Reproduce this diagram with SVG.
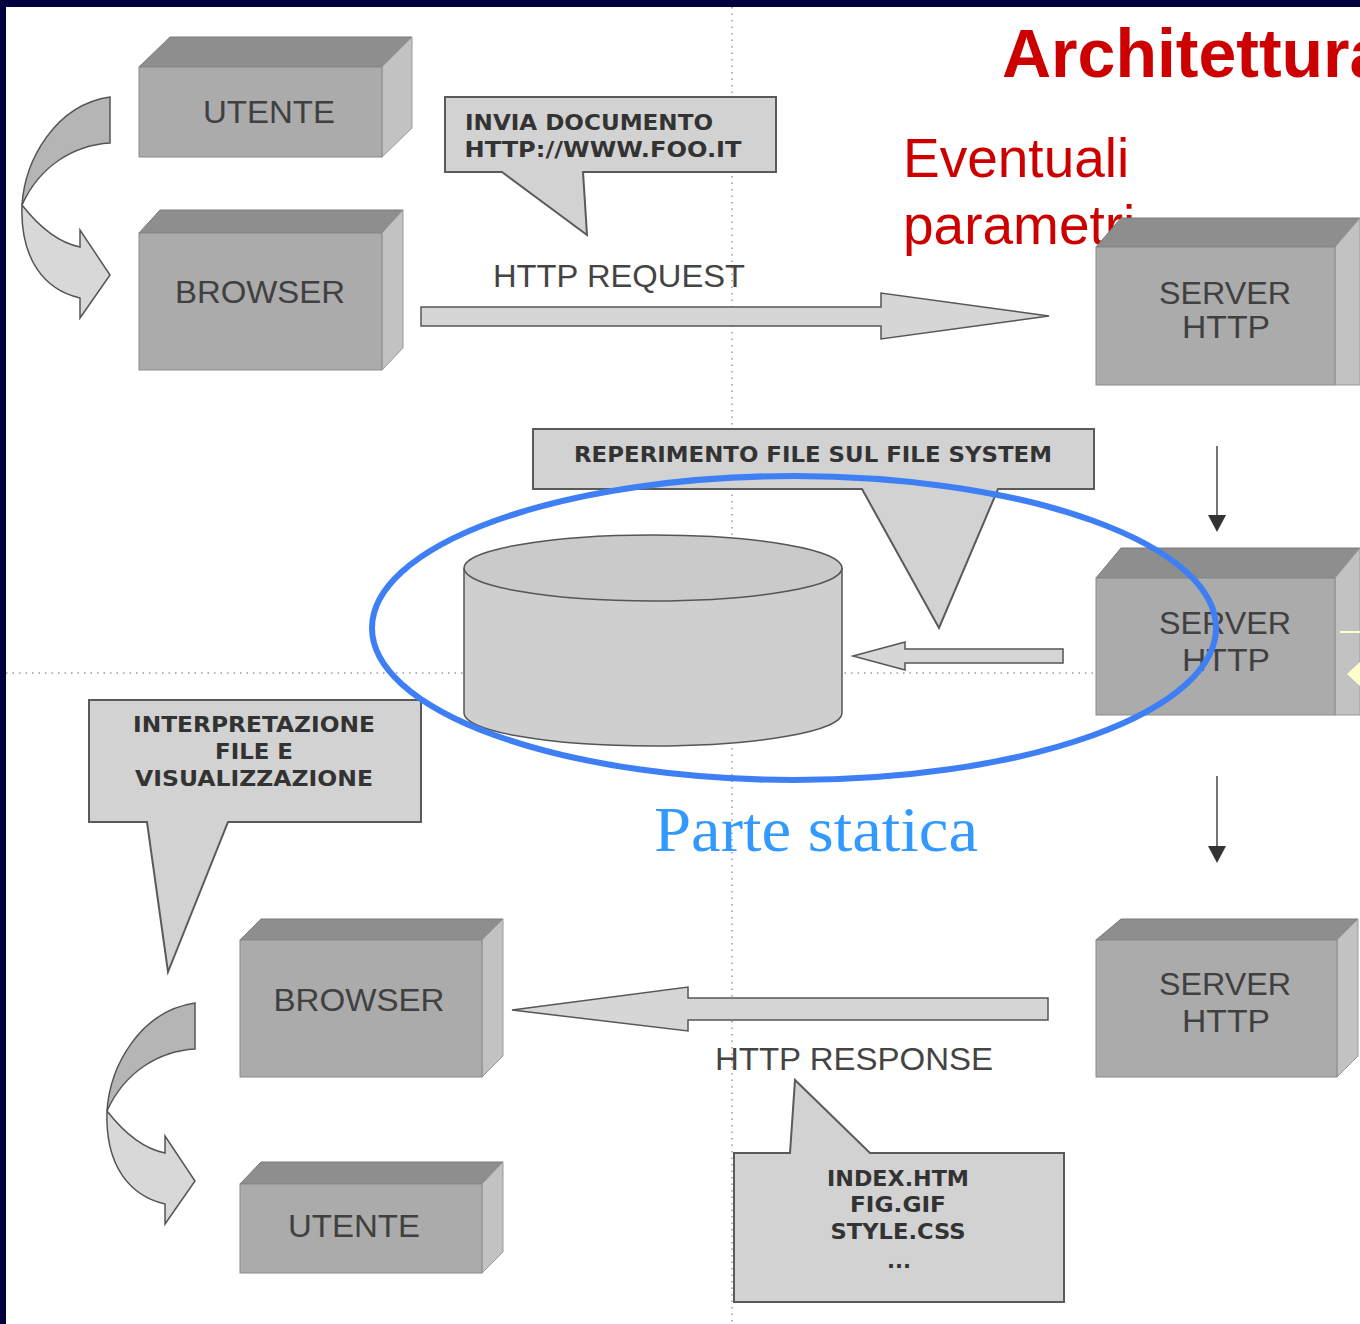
<svg xmlns="http://www.w3.org/2000/svg" width="1360" height="1324" viewBox="0 0 1360 1324">
<style>
.front{fill:#ababab;stroke:#8a8a8a;stroke-width:1}
.top{fill:#8e8e8e;stroke:#7a7a7a;stroke-width:1}
.side{fill:#c2c2c2;stroke:#9a9a9a;stroke-width:1}
.box{font-family:"Liberation Sans",Arial,sans-serif;font-size:31px;fill:#404040;text-anchor:middle}
.call{fill:#d2d2d2;stroke:#5a5a5a;stroke-width:2}
.ct{font-family:"DejaVu Sans","Liberation Sans",sans-serif;font-weight:bold;font-size:21px;fill:#333;text-anchor:middle}
.lbl{font-family:"Liberation Sans",Arial,sans-serif;font-size:31px;fill:#444;text-anchor:middle}
.barrow{fill:#d6d6d6;stroke:#555;stroke-width:1.5}
.dot{stroke:#9a9a9a;stroke-width:1.5;stroke-dasharray:1.5 5;fill:none}
</style>
<rect x="0" y="0" width="1360" height="1324" fill="#ffffff"/>
<rect x="0" y="0" width="1360" height="7" fill="#00003f"/>
<rect x="0" y="0" width="6" height="1324" fill="#00003f"/>
<g id="grid">
<line class="dot" x1="732" y1="7" x2="732" y2="1324"/>
<line class="dot" x1="6" y1="673" x2="1360" y2="673"/>
</g>
<g id="title">
<text x="1002" y="77" font-family="'Liberation Sans',Arial,sans-serif" font-weight="bold" font-size="68" fill="#cc0000">Architettura</text>
<text x="903" y="177" font-family="'Liberation Sans',Arial,sans-serif" font-size="55" fill="#cc0000">Eventuali</text>
<text x="903" y="244" font-family="'Liberation Sans',Arial,sans-serif" font-size="55" fill="#cc0000">parametri</text>
</g>
<g id="utente-top">
<polygon class="top" points="139,67 170,37 412,37 382,67"/>
<polygon class="side" points="382,67 412,37 412,128 382,157"/>
<rect class="front" x="139" y="67" width="243" height="90"/>
<text class="box" x="269" y="123" textLength="132" lengthAdjust="spacingAndGlyphs">UTENTE</text>
</g>
<g id="browser-top">
<polygon class="top" points="139,233 160,210 403,210 382,233"/>
<polygon class="side" points="382,233 403,210 403,348 382,370"/>
<rect class="front" x="139" y="233" width="243" height="137"/>
<text class="box" x="260" y="303" textLength="170" lengthAdjust="spacingAndGlyphs">BROWSER</text>
</g>
<g id="server-1">
<polygon class="top" points="1096,247 1121,218 1360,218 1360,247"/>
<polygon class="side" points="1335,247 1360,218 1360,385 1335,385"/>
<rect class="front" x="1096" y="247" width="239" height="138"/>
<text class="box" x="1225" y="304" textLength="132" lengthAdjust="spacingAndGlyphs">SERVER</text>
<text class="box" x="1226" y="338" textLength="88" lengthAdjust="spacingAndGlyphs">HTTP</text>
</g>
<g id="server-2">
<polygon class="top" points="1096,578 1121,548 1360,548 1360,578"/>
<polygon class="side" points="1335,578 1360,548 1360,715 1335,715"/>
<rect class="front" x="1096" y="578" width="239" height="137"/>
<text class="box" x="1225" y="634" textLength="132" lengthAdjust="spacingAndGlyphs">SERVER</text>
<text class="box" x="1226" y="671" textLength="88" lengthAdjust="spacingAndGlyphs">HTTP</text>
<line x1="1340" y1="632" x2="1360" y2="632" stroke="#ffffcc" stroke-width="2"/>
<polygon points="1347,674 1360,662 1360,686" fill="#ffffcc"/>
</g>
<g id="server-3">
<polygon class="top" points="1096,940 1121,919 1358,919 1337,940"/>
<polygon class="side" points="1337,940 1358,919 1358,1056 1337,1077"/>
<rect class="front" x="1096" y="940" width="241" height="137"/>
<text class="box" x="1225" y="995" textLength="132" lengthAdjust="spacingAndGlyphs">SERVER</text>
<text class="box" x="1226" y="1032" textLength="88" lengthAdjust="spacingAndGlyphs">HTTP</text>
</g>
<g id="browser-bottom">
<polygon class="top" points="240,940 261,919 503,919 482,940"/>
<polygon class="side" points="482,940 503,919 503,1056 482,1077"/>
<rect class="front" x="240" y="940" width="242" height="137"/>
<text class="box" x="359" y="1011" textLength="171" lengthAdjust="spacingAndGlyphs">BROWSER</text>
</g>
<g id="utente-bottom">
<polygon class="top" points="240,1184 261,1162 503,1162 482,1184"/>
<polygon class="side" points="482,1184 503,1162 503,1252 482,1273"/>
<rect class="front" x="240" y="1184" width="242" height="89"/>
<text class="box" x="354" y="1237" textLength="132" lengthAdjust="spacingAndGlyphs">UTENTE</text>
</g>
<g id="callout-invia">
<polygon class="call" points="445,97 776,97 776,172 583,172 587,235 502,172 445,172"/>
<text class="ct" x="589" y="130" textLength="248" lengthAdjust="spacingAndGlyphs">INVIA DOCUMENTO</text>
<text class="ct" x="603" y="157" textLength="277" lengthAdjust="spacingAndGlyphs">HTTP://WWW.FOO.IT</text>
</g>
<g id="callout-reperimento">
<polygon class="call" points="533,429 1094,429 1094,489 998,489 939,628 862,489 533,489"/>
<text class="ct" x="813" y="462" textLength="478" lengthAdjust="spacingAndGlyphs">REPERIMENTO FILE SUL FILE SYSTEM</text>
</g>
<g id="filesystem">
<path d="M464,568 L464,713 A189,33 0 0 0 842,713 L842,568" fill="#cfcfcf" stroke="#555" stroke-width="1.5"/>
<ellipse cx="653" cy="568" rx="189" ry="33" fill="#cacaca" stroke="#555" stroke-width="1.5"/>
</g>
<g id="callout-interpretazione">
<polygon class="call" points="89,700 421,700 421,822 228,822 168,972 147,822 89,822"/>
<text class="ct" x="254" y="732" textLength="242" lengthAdjust="spacingAndGlyphs">INTERPRETAZIONE</text>
<text class="ct" x="254" y="759" textLength="78" lengthAdjust="spacingAndGlyphs">FILE E</text>
<text class="ct" x="254" y="786" textLength="238" lengthAdjust="spacingAndGlyphs">VISUALIZZAZIONE</text>
</g>
<g id="callout-response">
<polygon class="call" points="734,1153 790,1153 795,1080 870,1153 1064,1153 1064,1302 734,1302"/>
<text class="ct" x="898" y="1186" textLength="142" lengthAdjust="spacingAndGlyphs">INDEX.HTM</text>
<text class="ct" x="898" y="1212" textLength="96" lengthAdjust="spacingAndGlyphs">FIG.GIF</text>
<text class="ct" x="898" y="1239" textLength="135" lengthAdjust="spacingAndGlyphs">STYLE.CSS</text>
<text class="ct" x="899" y="1268">...</text>
</g>
<g id="connectors">
<g id="curve-top">
<path d="M110,97 L110,143 C75,145 40,165 22,205 C25,160 55,105 110,97 Z" fill="#b5b5b5" stroke="#555" stroke-width="1.5"/>
<path d="M22,205 C40,228 60,243 80,247 L80,230 L110,275 L80,318 L80,298 C45,290 20,260 22,205 Z" fill="#d8d8d8" stroke="#555" stroke-width="1.5"/>
</g>
<g id="curve-bottom" transform="translate(85,906)">
<path d="M110,97 L110,143 C75,145 40,165 22,205 C25,160 55,105 110,97 Z" fill="#b5b5b5" stroke="#555" stroke-width="1.5"/>
<path d="M22,205 C40,228 60,243 80,247 L80,230 L110,275 L80,318 L80,298 C45,290 20,260 22,205 Z" fill="#d8d8d8" stroke="#555" stroke-width="1.5"/>
</g>
<polygon id="http-request-arrow" class="barrow" points="421,307 881,307 881,293 1049,316 881,339 881,326 421,326"/>
<polygon id="http-response-arrow" class="barrow" points="1048,998 688,998 688,987 512,1010 688,1031 688,1020 1048,1020"/>
<polygon id="fs-arrow" class="barrow" points="1063,649 905,649 905,642 853,656 905,670 905,663 1063,663"/>
<line x1="1217" y1="446" x2="1217" y2="516" stroke="#444" stroke-width="1.5"/>
<polygon points="1208,515 1226,515 1217,532" fill="#333"/>
<line x1="1217" y1="776" x2="1217" y2="847" stroke="#444" stroke-width="1.5"/>
<polygon points="1208,846 1226,846 1217,863" fill="#333"/>
</g>
<g id="labels">
<text class="lbl" x="619" y="287" textLength="252" lengthAdjust="spacingAndGlyphs">HTTP REQUEST</text>
<text class="lbl" x="854" y="1070" textLength="278" lengthAdjust="spacingAndGlyphs">HTTP RESPONSE</text>
</g>
<g id="static-part">
<ellipse cx="794" cy="628" rx="422" ry="152" fill="none" stroke="#3f7ff5" stroke-width="6"/>
<text x="654" y="851" font-family="'Liberation Serif','Times New Roman',serif" font-size="64" fill="#3399ff" textLength="324" lengthAdjust="spacingAndGlyphs">Parte statica</text>
</g>
</svg>
